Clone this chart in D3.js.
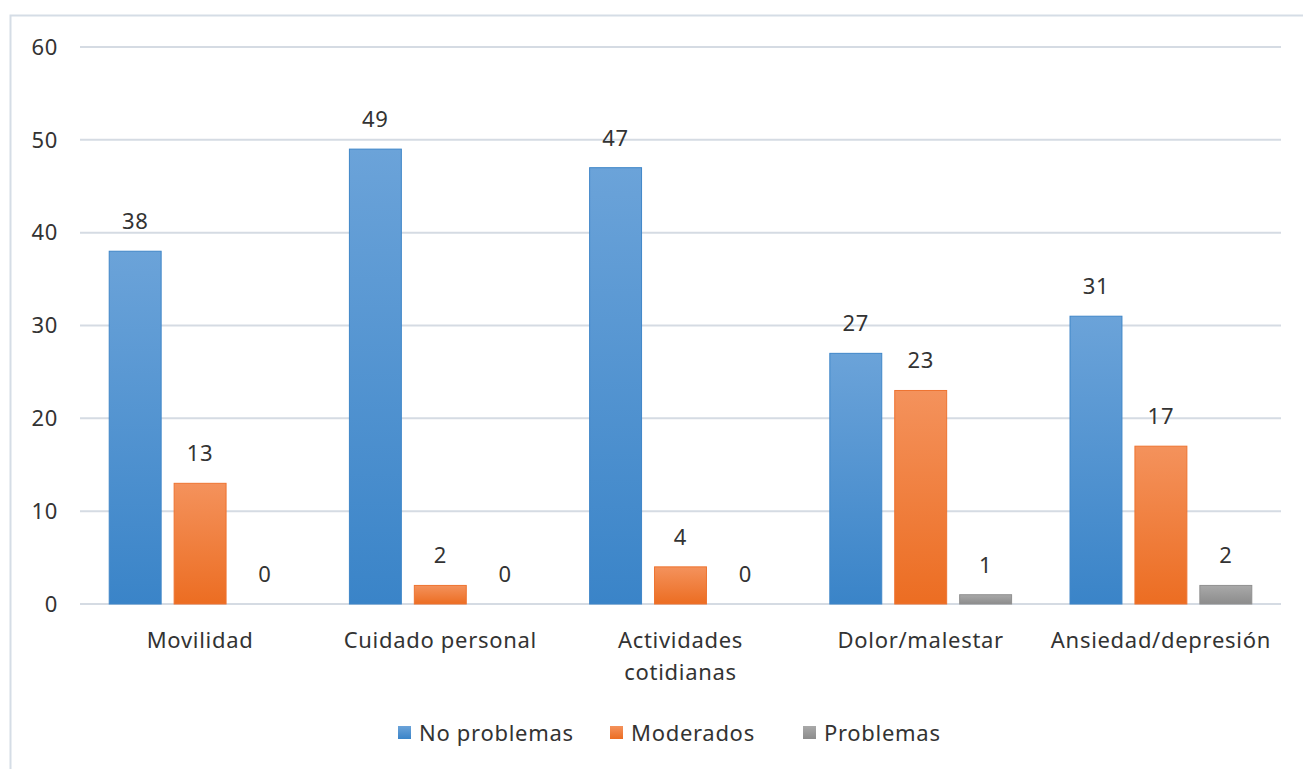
<!DOCTYPE html>
<html>
<head>
<meta charset="utf-8">
<script src="https://cdn.jsdelivr.net/npm/d3@7"></script>
<style>
  body { margin: 0; background: #fff; }
  text { font-family: "Noto Sans", "Open Sans", sans-serif; fill: #333; letter-spacing: 0.7px; }
</style>
</head>
<body>
<script>
const categories = ['Movilidad', 'Cuidado personal', 'Actividades cotidianas', 'Dolor/malestar', 'Ansiedad/depresión']
const seriesNames = ['No problemas', 'Moderados', 'Problemas']
const noProblemas = [38, 49, 47, 27, 31]
const moderados = [13, 2, 4, 23, 17]
const problemas = [0, 0, 0, 1, 2]
const yTicks = [0, 10, 20, 30, 40, 50, 60]

const seriesValues = [noProblemas, moderados, problemas]
const colors = [
  ['#6ba3d9', '#3a84c8'],
  ['#f4925c', '#ec6d22'],
  ['#a9a9a9', '#8c8c8c']
]
const edge = ['#3f86c8', '#ee7330', '#909090']

const width = 1303
const height = 769
const margin = { top: 47, left: 80, right: 22, bottom: 165 }
const fontSize = 22

const svg = d3.select('body').append('svg')
  .attr('width', width)
  .attr('height', height)

// chart frame
svg.append('rect')
  .attr('x', 10.5)
  .attr('y', 15.5)
  .attr('width', width + 10)
  .attr('height', height + 10)
  .attr('fill', 'none')
  .attr('stroke', '#d5dde6')
  .attr('stroke-width', 2)

const defs = svg.append('defs')
colors.forEach((c, i) => {
  const g = defs.append('linearGradient')
    .attr('id', `grad${i}`)
    .attr('x1', 0).attr('y1', 0).attr('x2', 0).attr('y2', 1)
  g.append('stop').attr('offset', '0%').attr('stop-color', c[0])
  g.append('stop').attr('offset', '100%').attr('stop-color', c[1])
})

const yScale = d3.scaleLinear()
  .domain([0, 60])
  .range([604, margin.top])

const xScale = d3.scaleBand()
  .domain(categories)
  .range([margin.left, width - margin.right])

const xInner = d3.scaleBand()
  .domain(seriesNames)
  .range([0, xScale.bandwidth()])
  .paddingInner(0.2)
  .paddingOuter(0.45)

// gridlines
svg.append('g')
  .selectAll('line')
  .data(yTicks)
  .join('line')
  .attr('x1', margin.left)
  .attr('x2', width - margin.right)
  .attr('y1', d => yScale(d))
  .attr('y2', d => yScale(d))
  .attr('stroke', '#d5dbe3')
  .attr('stroke-width', 2)

// y labels
svg.append('g')
  .selectAll('text')
  .data(yTicks)
  .join('text')
  .attr('x', 58)
  .attr('y', d => yScale(d))
  .attr('dy', '0.35em')
  .attr('text-anchor', 'end')
  .attr('font-size', fontSize)
  .text(d => d)

// bars
const groups = svg.append('g')
  .selectAll('g')
  .data(categories)
  .join('g')
  .attr('transform', d => `translate(${xScale(d)},0)`)

seriesNames.forEach((name, si) => {
  groups.append('rect')
    .attr('x', xInner(name))
    .attr('width', xInner.bandwidth())
    .attr('y', (d, ci) => yScale(seriesValues[si][ci]))
    .attr('height', (d, ci) => yScale(0) - yScale(seriesValues[si][ci]))
    .attr('fill', `url(#grad${si})`)
    .attr('stroke', edge[si])
    .attr('stroke-width', 1)

  groups.append('text')
    .attr('x', xInner(name) + xInner.bandwidth() / 2)
    .attr('y', (d, ci) => yScale(seriesValues[si][ci]) - 22)
    .attr('text-anchor', 'middle')
    .attr('font-size', fontSize)
    .text((d, ci) => seriesValues[si][ci])
})

// category labels
const catLabels = svg.append('g')
  .selectAll('text')
  .data(categories)
  .join('text')
  .attr('x', d => xScale(d) + xScale.bandwidth() / 2)
  .attr('y', 648)
  .attr('text-anchor', 'middle')
  .attr('font-size', fontSize)

catLabels.each(function (d) {
  const lines = d === 'Actividades cotidianas' ? ['Actividades', 'cotidianas'] : [d]
  d3.select(this).selectAll('tspan')
    .data(lines)
    .join('tspan')
    .attr('x', xScale(d) + xScale.bandwidth() / 2)
    .attr('dy', (l, i) => i === 0 ? 0 : 32)
    .text(l => l)
})

// legend
const legendX = [398, 610, 803]
const legend = svg.append('g')
  .selectAll('g')
  .data(seriesNames)
  .join('g')
  .attr('transform', (d, i) => `translate(${legendX[i]},733)`)

legend.append('rect')
  .attr('x', 0)
  .attr('y', -7)
  .attr('width', 13)
  .attr('height', 13)
  .attr('fill', (d, i) => `url(#grad${i})`)

legend.append('text')
  .attr('x', 21)
  .attr('y', 0)
  .attr('dy', '0.35em')
  .attr('font-size', fontSize)
  .text(d => d)
</script>
</body>
</html>
